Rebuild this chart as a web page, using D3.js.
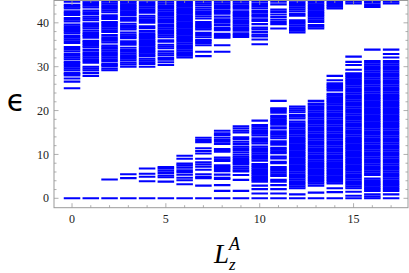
<!DOCTYPE html>
<html><head><meta charset="utf-8">
<script src="https://cdn.jsdelivr.net/npm/d3@7/dist/d3.min.js"></script>
<style>html,body{margin:0;padding:0;background:#fff;}svg{display:block;}</style>
</head><body>
<svg id="c" width="409" height="273"></svg>
<script>
const Lz = [0,1,2,3,4,5,6,7,8,9,10,11,12,13,14,15,16,17];
const xTicks = [0,5,10,15];
const yTicks = [0,10,20,30,40];

// lower branch of levels, one list per Lz column
const lowerLevels = [
 [0],
 [0],
 [0,4.3],
 [0,4.6,5.5],
 [0,3.9,4.9,5.6,6.8],
 [0,3.8,4.8,5.2,5.8,6.3,6.8,7.1],
 [0,3.2,4.1,4.7,5.4,6.0,6.4,7.0,7.5,7.9,9.0,9.7],
 [0,2.9,4.6,4.9,5.5,6.5,7.2,7.7,8.2,9.0,10.2,10.8,11.4,12.8,13.3,13.8],
 [0,1.7,3.0,4.4,4.7,5.4,6.2,6.7,7.1,7.5,8.5,8.9,9.3,10.6,10.9,11.2,12.4,12.9,13.3,13.8,14.4,14.8,15.4],
 [0,1.7,4.2,5.3,6.1,6.4,6.8,7.2,7.7,8.0,8.3,8.7,9.1,9.5,10.0,10.5,11.0,11.4,11.8,12.4,12.9,13.5,13.9,15.0,15.4,15.9,16.4],
 [0,1.1,2.1,2.9,3.8,4.2,4.6,5.0,5.4,5.8,6.2,6.6,7.0,7.4,7.8,8.6,9.0,9.4,9.8,10.2,10.6,11.0,11.4,11.8,12.5,12.9,13.3,13.7,14.3,14.7,15.1,15.5,15.9,16.3,16.7,17.7],
 [0,1.1,2.1,3.0,3.8,4.2,5.1,5.5,5.9,6.3,6.7,7.1,8.0,8.3,9.1,9.5,10.3,10.7,11.1,11.5,12.2,12.6,13.0,13.7,14.1,14.5,14.9,15.3,15.9,16.2,16.8,17.2,17.6,18.0,18.4,18.8,19.5,19.9,20.3,20.5,22.2],
 [0,0.9,2.3,2.7,3.1,3.5,3.9,4.3,4.7,5.1,5.5,5.9,6.3,6.7,7.1,7.5,7.9,8.3,8.7,9.1,9.5,9.9,10.3,10.7,11.1,11.5,11.9,12.3,12.7,13.1,13.5,13.9,14.3,14.7,15.1,15.5,15.9,16.3,16.7,17.1,17.5,18.2,18.6,19.0,19.6,20.0,20.4,20.9],
 [0,1.3,2.9,3.4,3.8,4.2,4.6,5.0,5.4,5.8,6.2,6.6,7.0,7.4,7.8,8.2,8.6,9.0,9.4,9.8,10.2,10.6,11.0,11.4,11.8,12.2,12.6,13.0,13.4,13.8,14.2,14.6,15.0,15.4,15.8,16.2,16.6,17.0,17.4,17.8,18.2,18.6,19.0,19.4,19.8,20.2,20.6,21.0,21.4,21.6,22.2],
 [0,1.4,2.3,3.4,3.8,4.2,4.6,5.0,5.4,5.8,6.2,6.6,7.0,7.4,7.8,8.2,8.6,9.0,9.4,9.8,10.2,10.6,11.0,11.4,11.8,12.2,12.6,13.0,13.4,13.8,14.2,14.6,15.0,15.4,15.8,16.2,16.6,17.0,17.4,17.8,18.2,18.6,19.0,19.4,19.8,20.2,20.6,21.0,21.4,21.8,22.2,22.6,23.0,23.4,23.8,24.6,25.0,25.4,25.8,26.2,26.9,27.9],
 [0,0.6,1.5,2.3,2.7,3.1,3.5,3.9,4.3,4.7,5.1,5.5,5.9,6.3,6.7,7.1,7.5,7.9,8.3,8.7,9.1,9.5,9.9,10.3,10.7,11.1,11.5,11.9,12.3,12.7,13.1,13.5,13.9,14.3,14.7,15.1,15.5,15.9,16.3,16.7,17.1,17.5,17.9,18.3,18.7,19.1,19.5,19.9,20.3,20.7,21.1,21.5,21.9,22.3,22.7,23.1,23.5,23.9,24.3,24.7,25.1,25.5,25.9,26.3,26.7,27.1,27.5,27.9,28.3,28.5,29.3,30.4,31.1,32.3],
 [0,0.4,0.9,1.7,2.1,2.5,2.9,3.3,3.7,4.1,4.5,5.3,5.7,6.1,6.5,6.9,7.3,7.7,8.1,8.5,8.9,9.3,9.7,10.1,10.5,10.9,11.3,11.7,12.1,12.5,12.9,13.3,13.7,14.1,14.5,14.9,15.3,15.7,16.1,16.5,16.9,17.3,17.7,18.1,18.5,18.9,19.3,19.7,20.1,20.5,20.9,21.3,21.7,22.1,22.5,22.9,23.3,23.7,24.1,24.5,24.9,25.3,25.7,26.1,26.5,26.9,27.3,27.7,28.1,28.5,28.9,29.3,29.7,30.1,30.5,30.9,31.3,33.9],
 [0,0.9,1.7,2.1,2.5,2.9,3.3,3.7,4.1,4.5,4.9,5.3,5.7,6.1,6.5,6.9,7.3,7.7,8.1,8.5,8.9,9.3,9.7,10.1,10.5,10.9,11.3,11.7,12.1,12.5,12.9,13.3,13.7,14.1,14.5,14.9,15.3,15.7,16.1,16.5,16.9,17.3,17.7,18.1,18.5,18.9,19.3,19.7,20.1,20.5,20.9,21.3,21.7,22.1,22.5,22.9,23.3,23.7,24.1,24.5,24.9,25.3,25.7,26.1,26.5,26.9,27.3,27.7,28.1,28.5,28.9,29.3,29.7,30.1,30.5,30.9,31.3,32.1,32.9,33.9]
];

// upper branch of levels, one list per Lz column (clipped at the top of the frame)
const upperLevels = [
 [25.1,26.6,27.3,28.0,28.3,28.6,29.2,29.6,30.0,30.4,30.8,31.1,31.7,32.1,32.5,32.9,33.5,34.0,34.5,35.4,35.8,36.2,36.6,37.0,37.6,38.0,38.4,38.8,39.2,39.6,40.3,40.7,41.1,41.8,42.2,42.6,43.3,43.7,44.1,44.8],
 [27.9,28.6,29.2,29.6,30.0,30.9,31.3,31.7,32.1,32.5,32.9,33.3,33.8,34.4,34.8,35.2,35.6,35.9,36.6,37.0,37.3,37.7,38.2,38.7,39.1,39.5,39.9,40.6,41.0,41.4,42.0,42.4,42.8,43.5,43.9,44.3,44.7,45.1],
 [29.2,29.6,30.1,30.4,30.7,31.3,31.7,32.1,32.5,32.9,33.3,33.7,34.1,34.4,34.8,35.5,35.9,36.3,36.7,37.2,37.9,38.3,38.7,39.1,39.5,39.9,40.2,40.9,41.3,41.7,42.4,42.8,43.2,43.6,44.0,44.4,44.8],
 [30.0,30.5,30.9,31.4,31.8,32.2,32.6,33.0,33.4,33.8,34.3,35.0,35.4,35.8,36.5,36.9,37.3,37.8,38.5,38.9,39.3,39.8,40.5,40.9,41.2,41.8,42.2,42.6,43.0,43.4,43.8,44.2,44.6,45.0],
 [30.0,30.6,31.0,31.4,31.8,32.4,32.8,33.2,33.6,34.0,34.4,34.8,35.2,35.6,36.0,36.4,36.8,37.2,37.6,38.1,38.8,39.2,40.0,40.4,40.8,41.2,41.6,42.3,42.7,43.1,43.5,43.9,44.3,44.7,45.1],
 [30.4,31.0,31.6,32.0,32.6,33.0,33.5,34.2,34.6,35.0,35.7,36.0,36.7,37.1,37.5,37.9,38.3,38.7,39.1,39.5,40.0,40.4,40.8,41.2,41.6,42.0,42.4,42.8,43.2,43.6,44.0,44.4,44.8],
 [32.1,32.5,32.9,33.3,33.7,34.1,34.5,34.9,35.3,35.7,36.1,36.5,36.9,37.3,37.7,38.1,38.5,38.9,39.3,39.7,40.1,40.5,40.9,41.3,41.7,42.1,42.5,42.9,43.3,43.7,44.1,44.5,44.9],
 [32.4,33.4,34.9,35.4,35.8,36.1,36.7,37.2,37.7,38.5,38.9,39.3,39.7,40.2,41.0,41.5,42.0,42.5,43.0,43.5,44.0,44.4,44.8],
 [33.4,34.9,36.6,36.9,37.2,37.5,38.3,38.6,38.9,39.5,40.0,40.4,40.8,41.4,42.1,42.4,42.7,43.2,43.6,44.0,44.4,44.8],
 [36.8,37.2,37.6,38.2,38.6,39.0,39.4,39.8,40.2,40.6,41.0,41.4,41.8,42.2,42.6,43.2,43.6,44.0,44.4,44.8],
 [35.1,36.2,36.9,37.3,37.9,38.5,38.9,39.7,40.4,40.8,41.4,41.8,42.3,42.7,43.3,43.8,44.3,44.8],
 [38.7,39.7,40.2,40.7,41.3,41.9,42.5,43.0,44.2,44.8],
 [37.8,38.2,38.6,39.0,39.4,39.8,40.2,40.6,41.6,42.0,42.6,43.1,43.5,43.9,44.3,44.7,45.1],
 [38.7,39.1,39.5,40.2,40.6,41.0,41.4,41.8,42.2,42.6,43.0,43.4,43.8,44.2,44.6,45.0],
 [43.3,43.7,44.1,44.5,44.9],
 [44.4,44.8],
 [43.6,44.1,44.6,45.0],
 [44.4,44.8]
];

const svg = d3.select('#c');
const L = 54, R = 408, T = 0.5, B = 207.7;
const x = d3.scaleLinear().domain([-0.96, 17.9]).range([L, R]);
const y = d3.scaleLinear().domain([-2.14, 45.2]).range([B, 0]);

svg.append('defs').append('clipPath').attr('id','clip')
  .append('rect').attr('x',L).attr('y',T).attr('width',R-L).attr('height',B-T);

const marks = [];
Lz.forEach((k,i)=>{
  lowerLevels[i].forEach(v=>marks.push({k,v}));
  upperLevels[i].forEach(v=>marks.push({k,v}));
});

svg.append('g').attr('clip-path','url(#clip)')
  .selectAll('line').data(marks).join('line')
  .attr('x1',d=>x(d.k-0.44)).attr('x2',d=>x(d.k+0.44))
  .attr('y1',d=>y(d.v)).attr('y2',d=>y(d.v))
  .attr('stroke','#0000ff').attr('stroke-width',2.1);

// frame
const frameColor = '#9a9a9a';
svg.append('rect').attr('x',L).attr('y',T).attr('width',R-L).attr('height',B-T)
  .attr('fill','none').attr('stroke',frameColor).attr('stroke-width',1);

const minorX = Lz.filter(v=>!xTicks.includes(v));
const minorY = [2,4,6,8,12,14,16,18,22,24,26,28,32,34,36,38,42,44];
const tg = svg.append('g').attr('stroke',frameColor).attr('stroke-width',0.8);
function xt(vals,len){
  vals.forEach(v=>{
    tg.append('line').attr('x1',x(v)).attr('x2',x(v)).attr('y1',B).attr('y2',B-len);
    tg.append('line').attr('x1',x(v)).attr('x2',x(v)).attr('y1',T).attr('y2',T+len);
  });
}
function yt(vals,len){
  vals.forEach(v=>{
    tg.append('line').attr('y1',y(v)).attr('y2',y(v)).attr('x1',L).attr('x2',L+len);
    tg.append('line').attr('y1',y(v)).attr('y2',y(v)).attr('x1',R).attr('x2',R-len);
  });
}
xt(xTicks,4.5); xt(minorX,2.5); yt(yTicks,4.5); yt(minorY,2.5);

const font = '"Liberation Serif","Times New Roman",serif';
svg.append('g').selectAll('text').data(xTicks).join('text')
  .attr('x',d=>x(d)).attr('y',223).attr('text-anchor','middle')
  .attr('font-family',font).attr('font-size',12).attr('fill','#222').text(d=>d);
svg.append('g').selectAll('text').data(yTicks).join('text')
  .attr('x',49).attr('y',d=>y(d)).attr('dy','0.34em').attr('text-anchor','end')
  .attr('font-family',font).attr('font-size',12).attr('fill','#222').text(d=>d);

// axis labels
svg.append('text').attr('x',16).attr('y',111).attr('text-anchor','middle')
  .attr('font-family','"DejaVu Sans",sans-serif').attr('font-size',30).attr('fill','#000').text('ϵ');
svg.append('text').attr('x',214).attr('y',263)
  .attr('font-family',font).attr('font-style','italic').attr('font-size',27).attr('fill','#000').text('L');
svg.append('text').attr('x',229).attr('y',250)
  .attr('font-family',font).attr('font-style','italic').attr('font-size',18).attr('fill','#000').text('A');
svg.append('text').attr('x',229).attr('y',270)
  .attr('font-family',font).attr('font-style','italic').attr('font-size',17).attr('fill','#000').text('z');
</script>
</body></html>
